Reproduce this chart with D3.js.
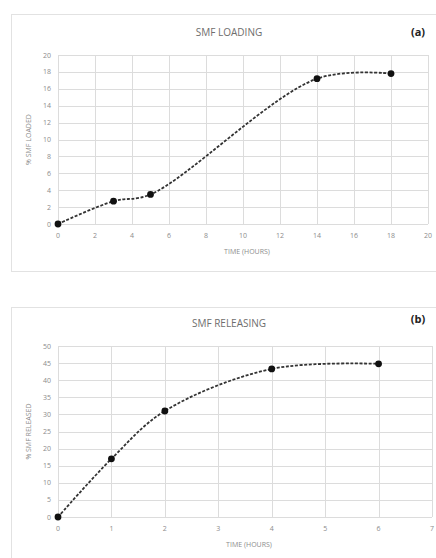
<!DOCTYPE html>
<html>
<head>
<meta charset="utf-8">
<script src="https://cdn.jsdelivr.net/npm/d3@7"></script>
<style>
  body { margin: 0; background: #fff; }
  svg { display: block; font-family: "Open Sans", "Liberation Sans", sans-serif; }
</style>
</head>
<body>
<svg></svg>
<script>
const width = 436;
const height = 558;

// DATA
const loadTime = [0, 3, 5, 14, 18];
const loadPct = [0, 2.7, 3.5, 17.2, 17.8];
const loadXTicks = [0, 2, 4, 6, 8, 10, 12, 14, 16, 18, 20];
const loadYTicks = [0, 2, 4, 6, 8, 10, 12, 14, 16, 18, 20];

const releaseTime = [0, 1, 2, 4, 6];
const releasePct = [0, 17, 31, 43.3, 44.8];
const releaseXTicks = [0, 1, 2, 3, 4, 5, 6, 7];
const releaseYTicks = [0, 5, 10, 15, 20, 25, 30, 35, 40, 45, 50];

const svg = d3.select('svg')
  .attr('width', width)
  .attr('height', height);

function drawPanel(opts) {
  const g = svg.append('g');

  // frame
  g.append('rect')
    .attr('x', opts.box[0] + 0.5).attr('y', opts.box[1] + 0.5)
    .attr('width', opts.box[2]).attr('height', opts.box[3])
    .attr('fill', '#fff').attr('stroke', '#e2e2e2');

  const x = d3.scaleLinear().domain(opts.xDomain).range([opts.left, opts.right]);
  const y = d3.scaleLinear().domain(opts.yDomain).range([opts.bottom, opts.top]);

  // grid
  g.append('g').selectAll('line.h')
    .data(opts.yTicks)
    .enter().append('line')
    .attr('x1', opts.left).attr('x2', opts.right)
    .attr('y1', d => Math.round(y(d)) + 0.5).attr('y2', d => Math.round(y(d)) + 0.5)
    .attr('stroke', '#dcdcdc');
  g.append('g').selectAll('line.v')
    .data(opts.xTicks)
    .enter().append('line')
    .attr('y1', opts.top).attr('y2', opts.bottom)
    .attr('x1', d => Math.round(x(d)) + 0.5).attr('x2', d => Math.round(x(d)) + 0.5)
    .attr('stroke', '#dcdcdc');

  // tick labels
  g.append('g').selectAll('text')
    .data(opts.yTicks)
    .enter().append('text')
    .attr('x', opts.left - 7)
    .attr('y', d => y(d) + 2.5)
    .attr('text-anchor', 'end')
    .attr('font-size', 7)
    .attr('fill', '#8c8c8c')
    .text(d => d);
  g.append('g').selectAll('text')
    .data(opts.xTicks)
    .enter().append('text')
    .attr('x', d => x(d))
    .attr('y', opts.bottom + 14)
    .attr('text-anchor', 'middle')
    .attr('font-size', 7)
    .attr('fill', '#8c8c8c')
    .text(d => d);

  // axis titles
  g.append('text')
    .attr('x', (opts.left + opts.right) / 2 + 4)
    .attr('y', opts.bottom + 30)
    .attr('text-anchor', 'middle')
    .attr('font-size', 7)
    .attr('fill', '#8c8c8c')
    .text('TIME (HOURS)');
  g.append('text')
    .attr('transform', `translate(${opts.left - 27},${(opts.top + opts.bottom) / 2}) rotate(-90)`)
    .attr('text-anchor', 'middle')
    .attr('font-size', 7)
    .attr('fill', '#8c8c8c')
    .text(opts.yLabel);

  // titles
  g.append('text')
    .attr('x', 229).attr('y', opts.titleY)
    .attr('text-anchor', 'middle')
    .attr('font-size', 10)
    .attr('fill', '#6e6e6e')
    .text(opts.title);
  g.append('text')
    .attr('x', 418).attr('y', opts.tagY)
    .attr('text-anchor', 'middle')
    .attr('font-size', 11)
    .attr('font-weight', 'bold')
    .attr('fill', '#222')
    .text(opts.tag);

  const pts = opts.xs.map((d, i) => [d, opts.ys[i]]);
  const line = d3.line()
    .x(d => x(d[0]))
    .y(d => y(d[1]))
    .curve(d3.curveCatmullRom.alpha(0.5));

  g.append('path')
    .datum(pts)
    .attr('d', line)
    .attr('fill', 'none')
    .attr('stroke', '#333')
    .attr('stroke-width', 1.8)
    .attr('stroke-dasharray', '3,1.6');

  g.append('g').selectAll('circle')
    .data(pts)
    .enter().append('circle')
    .attr('cx', d => x(d[0]))
    .attr('cy', d => y(d[1]))
    .attr('r', 3.4)
    .attr('fill', '#111');
}

drawPanel({
  box: [11, 14, 430, 257],
  left: 58, right: 428, top: 55, bottom: 224,
  xDomain: [0, 20], yDomain: [0, 20],
  xTicks: loadXTicks, yTicks: loadYTicks,
  xs: loadTime, ys: loadPct,
  yLabel: '% SMF LOADED',
  title: 'SMF LOADING', titleY: 36,
  tag: '(a)', tagY: 36
});

drawPanel({
  box: [11, 307, 430, 260],
  left: 58, right: 432, top: 346, bottom: 517,
  xDomain: [0, 7], yDomain: [0, 50],
  xTicks: releaseXTicks, yTicks: releaseYTicks,
  xs: releaseTime, ys: releasePct,
  yLabel: '% SMF RELEASED',
  title: 'SMF RELEASING', titleY: 327,
  tag: '(b)', tagY: 323
});
</script>
</body>
</html>
